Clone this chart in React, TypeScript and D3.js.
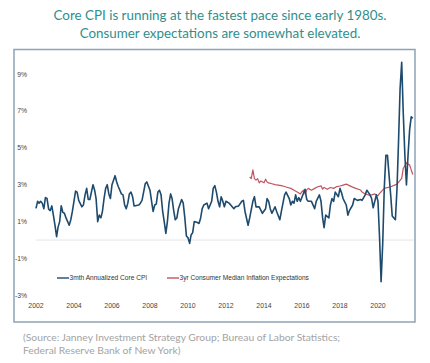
import * as d3 from "d3";

// months counted from Jan 2002
const cpiMonths = [
  0, 1, 2, 3, 4, 5, 6, 7, 8, 9, 10, 11, 12, 13, 14, 15, 16, 17, 18, 19, 21, 22, 23, 25, 26, 27, 29, 30, 31, 32, 33,
  34, 36, 37, 38, 39, 40, 41, 42, 43, 44, 45, 46, 47, 48, 50, 51, 52, 54, 55, 56, 57, 58, 59, 60, 61, 62, 65, 66,
  67, 68, 69, 70, 72, 73, 74, 75, 76, 77, 78, 79, 80, 81, 82, 83, 84, 85, 86, 87, 88, 89, 90, 92, 93, 94, 95, 96,
  97, 98, 99, 100, 102, 103, 104, 105, 106, 108, 109, 111, 112, 113, 114, 115, 116, 117, 118, 119, 120, 122, 123,
  125, 126, 128, 130, 131, 132, 134, 135, 137, 138, 139, 141, 143, 145, 146, 147, 148, 149, 151, 152, 154, 155,
  157, 158, 160, 161, 162, 163, 164, 165, 166, 167, 169, 170, 171, 172, 174, 176, 177, 179, 180, 181, 182, 183,
  185, 186, 187, 188, 189, 191, 192, 193, 194, 196, 197, 198, 200, 201, 203, 205, 206, 208, 209, 211, 212, 213,
  214, 215, 216, 217, 218, 219, 220, 221, 222, 224, 225, 226, 227, 228, 229, 230, 231, 232, 233, 234, 235, 236,
  237, 238,
];
const cpiValues = [
  1.72, 2.1, 2.0, 2.1, 2.0, 1.7, 2.3, 2.25, 1.67, 1.6, 1.85, 1.35, 0.8, 0.18, 0.7, 1.0, 1.86, 1.5, 1.45, 1.2, 0.8,
  1.1, 1.55, 2.65, 2.6, 2.15, 1.8, 1.9, 2.45, 2.8, 2.2, 2.2, 3.0, 2.7, 2.25, 1.0, 1.35, 1.2, 1.55, 2.25, 2.8, 3.0,
  2.5, 2.25, 3.0, 3.49, 3.15, 2.9, 2.5, 2.45, 1.9, 1.7, 2.0, 2.5, 2.6, 2.35, 1.85, 1.9, 2.0, 2.15, 2.6, 3.05, 3.15,
  2.7, 2.1, 1.55, 1.9, 1.95, 2.6, 2.7, 2.45, 1.55, 1.0, 0.36, 1.0, 2.0, 2.5, 2.25, 1.6, 1.1, 1.2, 1.7, 2.2, 2.0,
  1.2, 0.22, 0.12, -0.18, 0.27, 0.4, 1.0, 0.95, 0.9, 1.2, 1.7, 1.9, 2.0, 1.7, 2.1, 2.8, 2.95, 2.6, 2.1, 1.8, 2.35,
  2.1, 1.8, 2.1, 2.0, 1.9, 1.7, 1.8, 1.85, 2.1, 2.15, 1.55, 0.8, 1.2, 2.1, 2.35, 1.8, 1.8, 1.45, 1.7, 2.25, 2.1,
  1.7, 1.45, 1.8, 1.55, 1.1, 1.55, 2.45, 2.6, 2.25, 1.9, 2.1, 2.0, 2.45, 2.1, 2.3, 2.1, 2.55, 2.75, 2.2, 2.1, 2.1,
  1.7, 2.1, 2.45, 2.1, 1.2, 0.67, 1.35, 1.2, 1.9, 2.25, 2.1, 2.6, 2.35, 2.8, 2.55, 2.25, 1.9, 1.35, 1.6, 1.9, 2.25,
  2.15, 2.2, 2.15, 2.45, 2.7, 2.45, 2.25, 1.75, 2.1, 2.45, 2.1, 0.1, -2.26, -0.2, 2.8, 4.6, 4.6, 2.45, 1.3, 1.2,
  1.1, 2.8, 5.5, 8.2, 9.63, 6.9, 4.6, 2.98, 4.6, 6.0, 6.68, 6.6,
];

const expMonths = [
  135, 136, 137, 138, 139, 140, 141, 142, 144, 145, 146, 147, 149, 151, 153, 155, 157, 159, 161, 163, 165, 167, 168,
  169, 170, 171, 172, 174, 176, 178, 180, 181, 182, 184, 186, 188, 190, 192, 194, 196, 198, 200, 202, 205, 206,
  208, 210, 212, 214, 216, 217, 220, 224, 228, 231, 232, 234, 236, 237, 238,
];
const expValues = [
  3.43, 3.33, 3.8, 3.33, 3.25, 3.33, 3.1, 3.2, 3.1, 3.3, 3.15, 3.1, 3.05, 3.0, 2.98, 2.95, 2.9, 2.85, 2.8, 2.7,
  2.6, 2.5, 2.62, 2.7, 2.5, 2.72, 2.8, 2.7, 2.8, 2.89, 2.94, 2.76, 2.85, 2.75, 2.85, 2.8, 2.9, 2.93, 2.98, 3.03,
  2.95, 2.87, 2.8, 2.71, 2.6, 2.5, 2.44, 2.45, 2.5, 2.4, 2.53, 2.8, 2.89, 3.03, 3.34, 3.88, 4.19, 4.07, 3.8, 3.55,
];

const yearTicks = [2002, 2004, 2006, 2008, 2010, 2012, 2014, 2016, 2018, 2020];
const pctTicks = [-3, -1, 1, 3, 5, 7, 9];

const titleLines = [
  "Core CPI is running at the fastest pace since early 1980s.",
  "Consumer expectations are somewhat elevated.",
];
const sourceLines = [
  "(Source: Janney Investment Strategy Group; Bureau of Labor Statistics;",
  "Federal Reserve Bank of New York)",
];
const legendItems = [
  { label: "3mth Annualized Core CPI", color: "#1d4a6d" },
  { label: "3yr Consumer Median Inflation Expectations", color: "#c2555f" },
];

const W = 430;
const H = 363;
const axisFont = "'Liberation Sans', Arial, sans-serif";

function monthDate(m: number) {
  return new Date(2002, m, 1);
}

export default function App() {
  const x = d3
    .scaleTime()
    .domain([new Date(2002, 0, 1), new Date(2022, 0, 1)])
    .range([36, 416]);
  const y = d3.scaleLinear().domain([-3, 9]).range([295.4, 74]);

  const line = d3
    .line<[number, number]>()
    .x((d) => x(monthDate(d[0])))
    .y((d) => y(d[1]));

  const cpi = cpiMonths.map((m, i) => [m, cpiValues[i]] as [number, number]);
  const exp = expMonths.map((m, i) => [m, expValues[i]] as [number, number]);

  return (
    <svg
      width={W}
      height={H}
      style={{ position: "absolute", left: 0, top: 0, background: "#fff" }}
    >
      {/* title */}
      {titleLines.map((t, i) => (
        <text
          key={i}
          x={220}
          y={20 + i * 17.5}
          textAnchor="middle"
          fontFamily="Lato, 'Open Sans', sans-serif"
          fontSize={13.4}
          fill="#2f8f8c"
        >
          {t}
        </text>
      ))}

      {/* chart frame */}
      <rect x={14} y={49.5} width={401} height={272.5} fill="#fff" stroke="#8ea3b6" strokeWidth={1.5} />

      {/* zero line */}
      <line x1={36} x2={414} y1={y(0)} y2={y(0)} stroke="#dcdcdc" strokeWidth={0.8} />

      {/* y labels */}
      {pctTicks.map((t) => (
        <text
          key={t}
          x={27}
          y={y(t) + 2.5}
          textAnchor="end"
          fontFamily={axisFont}
          fontSize={6.8}
          fill="#444"
        >
          {t}%
        </text>
      ))}

      {/* x labels */}
      {yearTicks.map((yr) => (
        <text
          key={yr}
          x={x(new Date(yr, 0, 1))}
          y={308}
          textAnchor="middle"
          fontFamily={axisFont}
          fontSize={6.9}
          fill="#444"
        >
          {yr}
        </text>
      ))}

      {/* series */}
      <path d={line(exp) ?? ""} fill="none" stroke={legendItems[1].color} strokeWidth={1.2} strokeLinejoin="round" />
      <path d={line(cpi) ?? ""} fill="none" stroke={legendItems[0].color} strokeWidth={1.6} strokeLinejoin="round" />

      {/* legend */}
      {legendItems.map((it, i) => {
        const lx = i === 0 ? 57 : 167;
        return (
          <g key={i}>
            <line x1={lx} x2={lx + 12} y1={278} y2={278} stroke={it.color} strokeWidth={1.4} />
            <text x={lx + 12.5} y={280.4} fontFamily={axisFont} fontSize={6.6} fill="#333">
              {it.label}
            </text>
          </g>
        );
      })}

      {/* source */}
      {sourceLines.map((t, i) => (
        <text
          key={i}
          x={23}
          y={341 + i * 13.4}
          fontFamily="Lato, 'Open Sans', sans-serif"
          fontSize={10.3}
          fill="#a3a3a3"
        >
          {t}
        </text>
      ))}
    </svg>
  );
}
